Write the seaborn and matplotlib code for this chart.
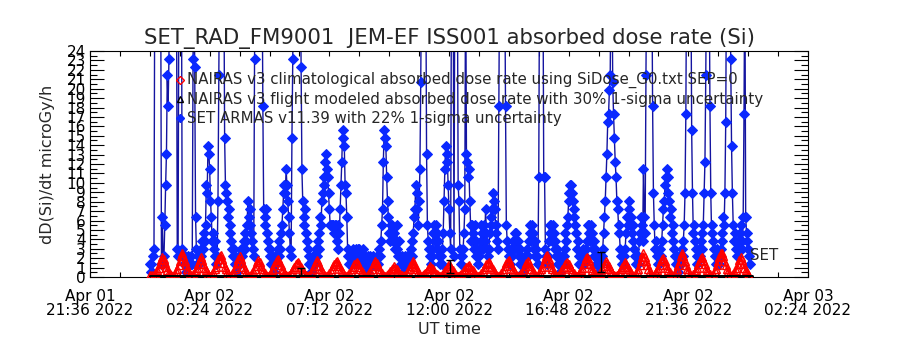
import numpy as np
import pandas as pd
import matplotlib
matplotlib.use('Agg')
import matplotlib.pyplot as plt
import matplotlib.dates as mdates
from matplotlib.ticker import MultipleLocator
import seaborn as sns

# SET ARMAS dose rate, one sample every 2 min from 2022-04-02 00:00 UT.
# Values are the quantised count levels seen in the plot (40 = off scale).
armas_start = '2022-04-02 00:00'
armas_base = 0.5
armas_step = 0.84
armas_levels = [
    1, 0, 1, 0, 2, 3, 40, 40, 40, 40, 40, 40, 40, 40, 1, 7, 1, 2, 6, 11, 15, 25, 21, 27,
    40, 40, 40, 40, 40, 40, 40, 40, 40, 3, 2, 40, 40, 40, 40, 3, 2, 1, 2, 1, 0, 1, 2, 1,
    1, 2, 1, 1, 27, 40, 26, 7, 3, 1, 2, 1, 2, 3, 2, 4, 3, 5, 4, 6, 11, 10, 16, 15,
    13, 9, 7, 4, 5, 3, 2, 4, 1, 2, 9, 25, 40, 40, 40, 40, 40, 40, 17, 11, 10, 9, 7, 8,
    5, 6, 4, 3, 2, 3, 1, 2, 1, 0, 1, 2, 1, 2, 3, 2, 3, 4, 3, 5, 4, 6, 9, 7,
    8, 6, 5, 4, 3, 2, 27, 40, 40, 40, 40, 40, 40, 40, 40, 40, 21, 8, 7, 6, 8, 5, 4, 3,
    2, 3, 1, 2, 1, 0, 1, 2, 1, 2, 3, 2, 4, 3, 5, 6, 8, 10, 11, 10, 13, 11, 9, 7,
    5, 3, 2, 17, 27, 40, 40, 40, 40, 40, 40, 40, 40, 40, 26, 13, 9, 7, 6, 8, 5, 4, 3, 1,
    2, 1, 0, 1, 2, 1, 2, 1, 3, 2, 4, 3, 5, 7, 6, 9, 10, 12, 11, 14, 15, 13, 12, 10,
    8, 6, 6, 6, 6, 6, 5, 6, 6, 4, 6, 3, 5, 8, 11, 14, 18, 17, 16, 11, 10, 7, 3, 2,
    1, 2, 1, 2, 3, 2, 1, 2, 3, 2, 1, 3, 3, 2, 1, 2, 3, 2, 1, 2, 1, 0, 1, 2,
    1, 2, 1, 1, 2, 1, 1, 1, 1, 2, 1, 2, 3, 2, 4, 6, 8, 14, 18, 17, 16, 12, 9, 7,
    5, 4, 6, 5, 6, 4, 5, 3, 4, 6, 3, 2, 4, 2, 1, 2, 1, 0, 1, 2, 1, 2, 1, 2,
    1, 2, 3, 2, 4, 5, 7, 8, 11, 10, 8, 6, 9, 13, 24, 40, 40, 40, 40, 40, 40, 15, 6, 4,
    3, 2, 1, 2, 3, 5, 6, 4, 6, 5, 3, 4, 2, 1, 2, 1, 3, 5, 9, 13, 16, 15, 14, 11,
    8, 5, 3, 40, 40, 40, 2, 40, 40, 40, 40, 11, 9, 3, 2, 1, 2, 3, 5, 8, 40, 15, 14, 12,
    13, 9, 6, 4, 6, 5, 3, 6, 4, 2, 3, 1, 2, 3, 4, 6, 5, 3, 6, 4, 8, 5, 3, 2,
    3, 5, 6, 7, 8, 10, 9, 8, 6, 5, 4, 3, 21, 40, 40, 40, 40, 40, 40, 40, 21, 6, 4, 3,
    2, 1, 2, 3, 2, 4, 3, 5, 4, 5, 3, 4, 2, 3, 1, 2, 1, 0, 1, 2, 1, 2, 3, 2,
    4, 5, 6, 4, 6, 5, 3, 4, 2, 3, 2, 1, 12, 40, 40, 40, 40, 40, 12, 12, 3, 2, 1, 2,
    4, 6, 5, 6, 4, 6, 5, 3, 4, 2, 3, 1, 2, 1, 0, 1, 2, 1, 2, 3, 5, 4, 6, 7,
    9, 10, 11, 11, 10, 9, 7, 8, 6, 5, 3, 4, 2, 1, 2, 1, 2, 3, 2, 1, 2, 3, 4, 6,
    5, 6, 4, 6, 5, 3, 4, 2, 3, 1, 2, 1, 0, 1, 2, 1, 2, 3, 5, 7, 9, 12, 15, 19,
    20, 23, 25, 40, 40, 24, 20, 17, 14, 12, 9, 8, 6, 5, 3, 2, 1, 2, 1, 2, 3, 5, 7, 6,
    9, 8, 6, 7, 5, 6, 4, 3, 2, 1, 2, 1, 2, 4, 5, 7, 6, 4, 13, 7, 5, 25, 40, 40,
    40, 40, 40, 40, 40, 21, 10, 6, 3, 4, 2, 1, 2, 1, 3, 2, 4, 6, 8, 9, 11, 12, 13, 12,
    10, 9, 7, 8, 5, 6, 4, 3, 2, 1, 2, 1, 0, 1, 2, 1, 3, 2, 4, 6, 10, 20, 40, 40,
    40, 40, 40, 40, 18, 10, 5, 6, 4, 3, 2, 1, 2, 3, 2, 4, 3, 5, 6, 10, 14, 25, 40, 40,
    40, 40, 21, 10, 5, 6, 4, 3, 2, 1, 2, 3, 2, 1, 2, 3, 4, 5, 7, 6, 10, 19, 40, 40,
    40, 40, 40, 27, 16, 10, 6, 4, 5, 3, 2, 3, 4, 3, 5, 6, 4, 3, 7, 20, 40, 7, 5, 4,
    3, 2, 1,
]

# NAIRAS climatological dose rate, one sample every 3 min, in 0.1 microGy/h
nairas_start = '2022-04-02 00:00'
nairas_tenths = [
    2, 1, 2, 2, 3, 5, 7, 10, 14, 18, 21, 19, 15, 11, 7, 5, 3, 2, 1,
    1, 3, 6, 9, 13, 17, 22, 26, 22, 17, 13, 9, 6, 3, 1,
    1, 3, 5, 7, 10, 14, 18, 21, 18, 14, 10, 7, 5, 3, 1,
    1, 3, 5, 8, 11, 15, 19, 22, 23, 19, 15, 11, 8, 5, 3, 1,
    1, 3, 5, 8, 11, 15, 19, 22, 19, 15, 11, 8, 5, 3, 1,
    1, 2, 4, 6, 9, 12, 16, 18, 16, 12, 9, 6, 4, 2, 1,
    1, 2, 4, 7, 9, 13, 16, 18, 19, 16, 13, 9, 7, 4, 2, 1,
    1, 2, 4, 6, 8, 11, 14, 15, 16, 14, 11, 8, 6, 4, 2, 1,
    1, 2, 4, 6, 9, 12, 16, 18, 16, 12, 9, 6, 4, 2, 1,
    1, 2, 4, 6, 9, 12, 14, 16, 17, 14, 12, 9, 6, 4, 2, 1,
    1, 2, 4, 6, 8, 11, 14, 15, 16, 14, 11, 8, 6, 4, 2, 1,
    1, 2, 4, 6, 9, 12, 15, 17, 15, 12, 9, 6, 4, 2, 1,
    1, 2, 3, 4, 6, 8, 10, 12, 10, 8, 6, 4, 3, 2, 1,
    1, 2, 4, 6, 9, 12, 15, 17, 14, 11, 8, 5, 3, 1,
    1, 2, 3, 4, 6, 8, 10, 12, 10, 8, 6, 4, 3, 2, 1,
    1, 2, 3, 5, 7, 10, 12, 14, 12, 10, 7, 5, 3, 2, 1,
    1, 2, 3, 5, 7, 9, 11, 12, 13, 11, 9, 7, 5, 3, 2, 1,
    1, 2, 4, 6, 8, 11, 14, 15, 16, 14, 11, 8, 6, 4, 2, 1,
    1, 2, 4, 6, 9, 12, 15, 17, 18, 15, 12, 9, 6, 4, 2, 1,
    1, 2, 4, 6, 9, 12, 15, 17, 15, 12, 9, 6, 4, 2, 1,
    1, 3, 5, 8, 11, 15, 19, 22, 23, 19, 15, 11, 8, 5, 3, 1,
    1, 2, 4, 6, 8, 11, 14, 15, 16, 14, 11, 8, 6, 4, 2, 1,
    1, 3, 5, 7, 10, 14, 17, 20, 21, 18, 14, 10, 7, 5, 3, 1,
    1, 2, 4, 6, 9, 12, 15, 17, 15, 12, 9, 6, 4, 2, 1,
    1, 2, 4, 6, 8, 11, 14, 16, 14, 11, 8, 6, 4, 2, 1,
    1, 3, 6, 9, 13, 17, 21, 25, 21, 17, 13, 9, 6, 3, 1,
    1, 3, 5, 7, 10, 13, 17, 19, 20, 17, 13, 10, 7, 5, 3, 1,
    1, 3, 6, 9, 13, 17, 22, 26, 22, 17, 13, 9, 6, 3, 1,
    1, 3, 5, 7, 10, 14, 17, 20, 21, 18, 14, 10, 7, 5, 3, 1,
    1, 3, 6, 9, 13, 17, 21, 25, 26, 22, 17, 13, 9, 6, 3, 1,
    1, 3, 5, 7, 10, 14, 18, 21, 18, 14, 10, 7, 5, 2, 1,
]

# NAIRAS flight modeled points with 30% uncertainty
flight_times = ['2022-04-02 06:04', '2022-04-02 12:02', '2022-04-02 18:06']
flight_dose = [0.6, 1.1, 1.6]
flight_err = [0.35, 0.7, 1.1]

# black model trace along the bottom
base_times = ['2022-04-02 00:00', '2022-04-03 00:10']
base_dose = [0.08, 0.08]

x_ticks = pd.date_range('2022-04-01 21:36', '2022-04-03 02:24', freq='288min')
x_minor = pd.date_range('2022-04-01 21:36', '2022-04-03 02:24', freq='72min')

armas_t = pd.date_range(armas_start, periods=len(armas_levels), freq='2min')
armas_dose = armas_base + armas_step * np.array(armas_levels)
nairas_t = pd.date_range(nairas_start, periods=len(nairas_tenths), freq='3min')
nairas_dose = np.array(nairas_tenths) / 10.0

sns.set_style('ticks')
plt.rcParams['font.family'] = ['DejaVu Sans']

fig = plt.figure(figsize=(9, 3.5), dpi=100)
ax = fig.add_axes([90 / 900, 1 - 277 / 350, 718 / 900, 226 / 350])

blue_line = '#1414a0'
blue_mark = '#0a28ff'
red = '#ff0000'

sns.lineplot(x=armas_t, y=armas_dose, ax=ax, color=blue_line, lw=1.0,
             marker='D', markersize=5, markerfacecolor=blue_mark,
             markeredgecolor=blue_mark, estimator=None, sort=False, zorder=2)
sns.lineplot(x=nairas_t, y=nairas_dose, ax=ax, color=red, lw=1.6,
             marker='^', markersize=6, markerfacecolor='none',
             markeredgecolor=red, markeredgewidth=1.0,
             estimator=None, sort=False, zorder=3)
sns.lineplot(x=pd.to_datetime(base_times), y=base_dose, ax=ax, color='black',
             lw=2.2, estimator=None, zorder=4)
ax.errorbar(pd.to_datetime(flight_times), flight_dose, yerr=flight_err,
            fmt='none', ecolor='black', elinewidth=1, capsize=3, zorder=5)

ax.set_xlim(x_ticks[0], x_ticks[-1])
ax.set_ylim(0, 24)
ax.set_xticks(x_ticks)
ax.set_xticks(x_minor, minor=True)
ax.xaxis.set_major_formatter(mdates.DateFormatter('%b %d\n%H:%M %Y'))
ax.yaxis.set_major_locator(MultipleLocator(1))
ax.yaxis.set_minor_locator(MultipleLocator(0.5))

ax.tick_params(axis='both', which='both', direction='in', top=True, right=True,
               colors='black', width=0.8, labelsize=11)
ax.tick_params(axis='y', which='major', length=10, pad=3)
ax.tick_params(axis='y', which='minor', length=5)
ax.tick_params(axis='x', which='both', length=3.5, pad=9)
for lbl in ax.get_xticklabels():
    lbl.set_linespacing(0.9)
for sp in ax.spines.values():
    sp.set_linewidth(0.8)
    sp.set_color('black')

ax.set_xlabel('UT time', fontsize=11.5, labelpad=3)
ax.set_ylabel('dD(Si)/dt microGy/h', fontsize=11.5, labelpad=8.5)
ax.set_title('SET_RAD_FM9001  JEM-EF ISS001 absorbed dose rate (Si)',
             fontsize=15.3, pad=5)

# legend lines drawn into the plot area
legend_rows = [
    ('NAIRAS v3 climatological absorbed dose rate using SiDose_G0.txt SEP=0', 'D', red, 'none'),
    ('NAIRAS v3 flight modeled absorbed dose rate with 30% 1-sigma uncertainty', '^', 'black', 'none'),
    ('SET ARMAS v11.39 with 22% 1-sigma uncertainty', 'D', blue_mark, blue_mark),
]
for k, (txt, mk, ec, fc) in enumerate(legend_rows):
    yy = 1 - (80 + 19 * k) / 350
    fig.text(187 / 900, yy, txt, fontsize=10.8, va='center', ha='left', zorder=10)
    fig.lines.append(plt.Line2D([180 / 900], [yy], marker=mk, markersize=4.5,
                                markeredgecolor=ec, markerfacecolor=fc,
                                transform=fig.transFigure, figure=fig))

fig.text(750 / 900, 1 - 256 / 350, 'SET', fontsize=10.8, va='center', ha='left')

fig.savefig('out.png', dpi=100, facecolor='white')
